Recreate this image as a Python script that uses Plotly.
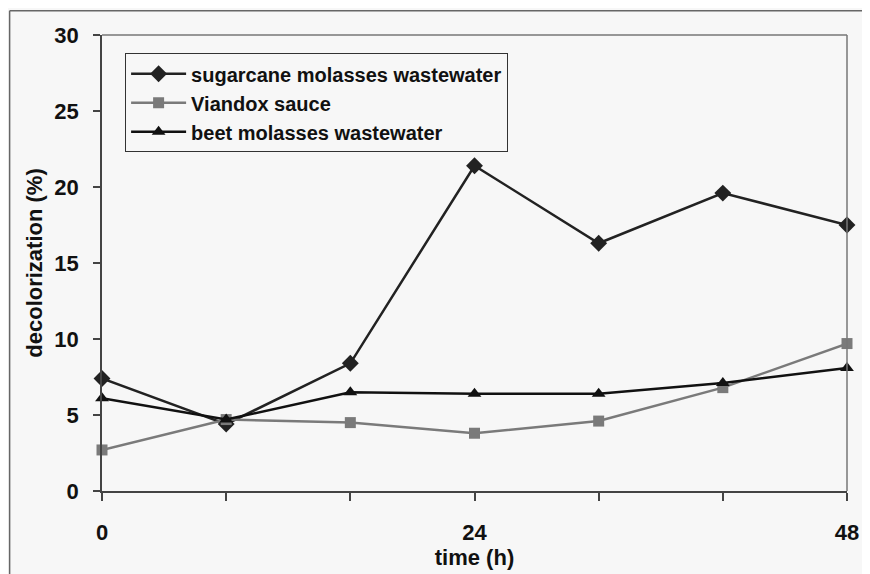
import plotly.graph_objects as go

# time points (h) and decolorization (%)
time_h = [0, 8, 16, 24, 32, 40, 48]
sugarcane = [7.4, 4.4, 8.4, 21.4, 16.3, 19.6, 17.5]
viandox = [2.7, 4.7, 4.5, 3.8, 4.6, 6.8, 9.7]
beet = [6.1, 4.7, 6.5, 6.4, 6.4, 7.1, 8.1]

x_tickvals = [0, 8, 16, 24, 32, 40, 48]
x_ticktext = ["0", "", "", "24", "", "", "48"]
y_tickvals = [0, 5, 10, 15, 20, 25, 30]

FONT = "Arial, Liberation Sans, sans-serif"
BG = "#f7f7f7"

fig = go.Figure()

series = [
    ("sugarcane molasses wastewater", sugarcane, "#222222", "diamond", 13),
    ("Viandox sauce", viandox, "#7a7a7a", "square", 11),
    ("beet molasses wastewater", beet, "#111111", "triangle-up", 12),
]
for name, vals, col, sym, size in series:
    fig.add_trace(go.Scatter(
        x=time_h, y=vals, name=name, mode="lines+markers",
        line={"color": col, "width": 2.5},
        marker={"symbol": sym, "size": size, "color": col},
        cliponaxis=False,
    ))

axis_font = {"family": FONT, "size": 22, "color": "#111", "weight": "bold"}

fig.update_xaxes(
    range=[0, 48], tickvals=x_tickvals, ticktext=x_ticktext,
    showgrid=False, zeroline=False,
    showline=True, linecolor="#444", linewidth=1.5,
    ticks="outside", ticklen=8, tickcolor="#444", tickwidth=1.5,
    tickfont=axis_font, ticklabelstandoff=13,
    title={"text": "time (h)", "font": axis_font, "standoff": 2},
)
fig.update_yaxes(
    range=[0, 30], tickvals=y_tickvals,
    showgrid=False, zeroline=False,
    showline=True, linecolor="#444", linewidth=1.5,
    ticks="outside", ticklen=7, tickcolor="#444", tickwidth=1.5,
    tickfont=axis_font, ticklabelstandoff=10,
    title={"text": "decolorization (%)", "font": axis_font, "standoff": 6},
)

# plot area frame (top/right) and outer chart border (top/left)
fig.add_shape(type="line", xref="paper", yref="paper", x0=0, x1=1, y0=1, y1=1,
              line={"color": "#777", "width": 1.5})
fig.add_shape(type="line", xref="paper", yref="paper", x0=1, x1=1, y0=0, y1=1,
              line={"color": "#777", "width": 1.5})
fig.add_shape(type="line", xref="paper", yref="paper", x0=-0.124, x1=1.04, y0=1.053, y1=1.053,
              line={"color": "#666", "width": 1.5})
fig.add_shape(type="line", xref="paper", yref="paper", x0=-0.124, x1=-0.124, y0=-0.2, y1=1.053,
              line={"color": "#666", "width": 1.5})

# page body adds an 8px offset, so the figure is 8px smaller than the window
fig.update_layout(
    width=862, height=566,
    margin={"l": 94, "r": 23, "t": 27, "b": 83, "autoexpand": False},
    paper_bgcolor=BG, plot_bgcolor=BG,
    font={"family": FONT, "color": "#111"},
    showlegend=True,
    legend={
        "x": 0.031, "y": 0.96, "xanchor": "left", "yanchor": "top",
        "bgcolor": BG, "bordercolor": "#333", "borderwidth": 1,
        "font": {"family": FONT, "size": 20, "weight": "bold", "color": "#111"},
        "itemwidth": 55, "tracegroupgap": 0,
    },
)

fig.write_html("out.html")
